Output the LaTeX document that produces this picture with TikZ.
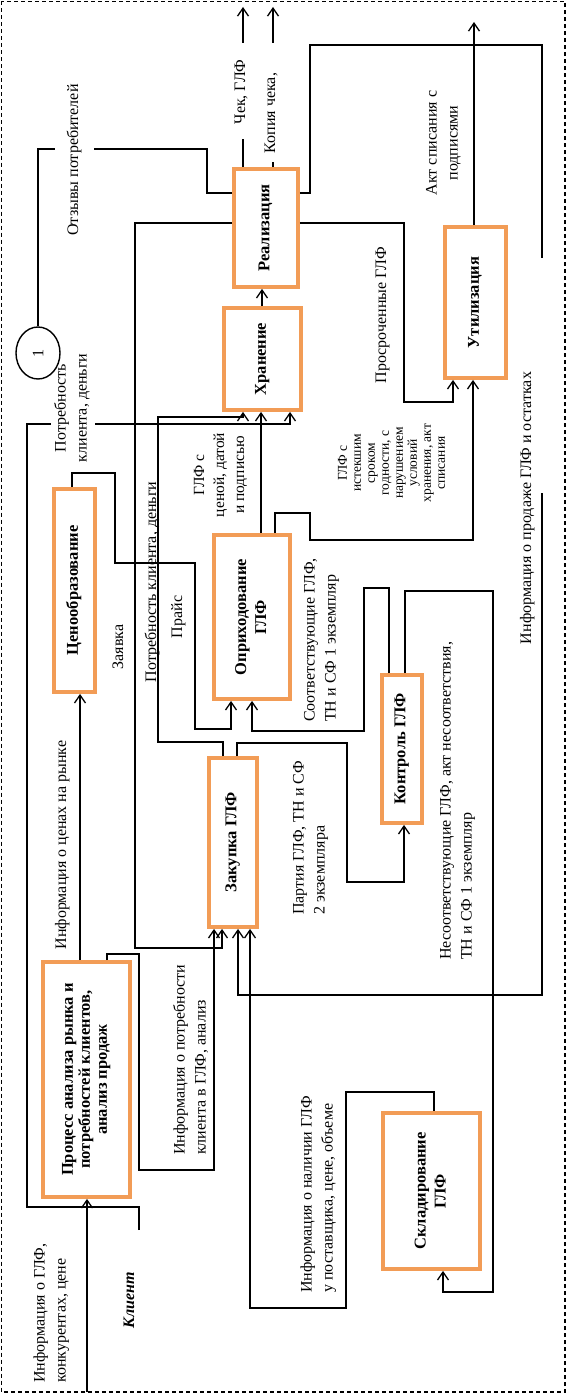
\documentclass[tikz,border=0pt]{standalone}
\usepackage{fontspec}
\setmainfont{Liberation Serif}
\usepackage{graphicx}
\usetikzlibrary{arrows.meta,shapes.geometric}
\definecolor{boxorange}{RGB}{242,156,86}
\newcommand{\rtc}[1]{\rotatebox{90}{\begin{tabular}{@{}c@{}}#1\end{tabular}}}
\newcommand{\rtl}[1]{\rotatebox{90}{\begin{tabular}{@{}l@{}}#1\end{tabular}}}
\tikzset{
  pbox/.style={draw=boxorange, line width=3.8pt, fill=white, inner sep=0pt, font=\fontsize{16.5}{17}\selectfont\bfseries},
  lbl/.style={inner sep=0pt, font=\fontsize{16}{21}\selectfont},
  conn/.style={line width=1.3pt},
  arr/.style={conn, -{Straight Barb[length=8pt,width=11pt]}},
}
\begin{document}
\begin{tikzpicture}[x=1pt,y=-1pt]
\useasboundingbox (0,0) rectangle (568,1394);
\draw[line width=1.5pt, dash pattern=on 4pt off 3pt] (1.5,1.5) rectangle (565,1392);
% boxes
\node[pbox, minimum width=64pt, minimum height=118pt] (real) at (266,228) {\rtc{Реализация}};
\node[pbox, minimum width=77pt, minimum height=102pt] (hran) at (262.5,359) {\rtc{Хранение}};
\node[pbox, minimum width=61pt, minimum height=151pt] (util) at (475.5,302.5) {\rtc{Утилизация}};
\node[pbox, minimum width=41pt, minimum height=203pt] (cen) at (74.5,590.5) {\rtc{Ценообразование}};
\node[pbox, minimum width=76pt, minimum height=164pt, font=\fontsize{16.5}{20}\selectfont\bfseries] (opr) at (252,617) {\rtc{Оприходование\\ГЛФ}};
\node[pbox, minimum width=40pt, minimum height=148pt] (kontr) at (402,749) {\rtc{Контроль ГЛФ}};
\node[pbox, minimum width=48pt, minimum height=169pt] (zak) at (233,842.5) {\rtc{Закупка ГЛФ}};
\node[pbox, minimum width=87pt, minimum height=235pt] (proc) at (86.5,1079.5) {\rtc{Процесс анализа рынка и\\потребностей клиентов,\\анализ продаж}};
\node[pbox, minimum width=97pt, minimum height=156pt, font=\fontsize{16.5}{20}\selectfont\bfseries] (sklad) at (431.5,1191) {\rtc{Складирование\\ГЛФ}};
\node[draw, ellipse, line width=1.4pt, minimum width=44pt, minimum height=52pt, inner sep=0pt, font=\fontsize{16}{20}\selectfont] (c1) at (38,353) {\rotatebox{90}{1}};
% free ends
\coordinate (outChek) at (243,7);
\coordinate (outKopia) at (273,7);
\coordinate (outAkt) at (474,22);
\coordinate (inInfo) at (87,1392);
\coordinate (klient) at (139,1230);
% connectors
\draw[conn] (real.west |- 0,193) -- (207,193) -- (207,149) -- (38,149) -- (c1.north);
\draw[conn] (real.north -| 243,0) -- (243,139);
\draw[arr] (243,43) -- (outChek);
\draw[conn] (real.north -| 273,0) -- (273,162);
\draw[arr] (273,43) -- (outKopia);
\draw[conn] (real.east |- 0,193) -- (310,193) -- (310,45) -- (542,45) -- (542,258);
\draw[arr] (542,493) -- (542,995) -- (238,995) -- (zak.south -| 238,0);
\draw[arr] (real.east |- 0,223) -- (404,223) -- (404,402) -- (453,402) -- (util.south -| 453,0);
\draw[arr] (real.west |- 0,223) -- (135,223) -- (135,948) -- (222,948) -- (zak.south -| 222,0);
\draw[arr] (hran.north -| 262,0) -- (real.south -| 262,0);
\draw[arr] (util.north -| 474,0) -- (outAkt);
\draw[arr] (klient) -- (139,1207) -- (27,1207) -- (27,424) -- (51,424) (95,424) -- (290,424) -- (hran.south -| 290,0);
\draw[arr] (zak.north -| 223,0) -- (223,742) -- (158,742) -- (158,417) -- (243,417) -- (hran.south -| 243,0);
\draw[arr] (opr.north -| 261,0) -- (hran.south -| 261,0);
\draw[arr] (opr.north -| 275,0) -- (275,513) -- (310,513) -- (310,540) -- (473,540) -- (util.south -| 473,0);
\draw[arr] (cen.north -| 72,0) -- (72,473) -- (115,473) -- (115,563) -- (195,563) -- (195,729) -- (231,729) -- (opr.south -| 231,0);
\draw[arr] (kontr.north -| 389,0) -- (389,588) -- (364,588) -- (364,731) -- (252,731) -- (opr.south -| 252,0);
\draw[arr] (kontr.north -| 405,0) -- (405,591) -- (493,591) -- (493,1292) -- (443,1292) -- (sklad.south -| 443,0);
\draw[arr] (zak.north -| 237,0) -- (237,743) -- (347,743) -- (347,882) -- (404,882) -- (kontr.south -| 404,0);
\draw[arr] (proc.north -| 80,0) -- (cen.south -| 80,0);
\draw[arr] (inInfo) -- (proc.south -| 87,0);
\draw[arr] (proc.north -| 107,0) -- (107,954) -- (139,954) -- (139,1170) -- (214,1170) -- (zak.south -| 214,0);
\draw[arr] (sklad.north -| 434,0) -- (434,1092) -- (346,1092) -- (346,1308) -- (250,1308) -- (zak.south -| 250,0);
% labels
\node[lbl, fill=white, inner xsep=9pt] (lOtz) at (74,160) {\rtc{Отзывы потребителей}};
\node[lbl] (lChek) at (241,92) {\rtc{Чек, ГЛФ}};
\node[lbl] (lKop) at (271,113) {\rtc{Копия чека,}};
\node[lbl] (lAkt) at (443,143) {\rtc{Акт списания с\\подписями}};
\node[lbl] (lPros) at (382,315) {\rtc{Просроченные ГЛФ}};
\node[lbl] (lPotr1) at (72,408) {\rtc{Потребность\\клиента, деньги}};
\node[lbl, font=\fontsize{15.5}{20}\selectfont] (lGlfC) at (220,475) {\rtc{ГЛФ с\\ценой, датой\\и подписью}};
\node[lbl, font=\fontsize{13.5}{14}\selectfont] (lIst) at (393,463) {\rtc{ГЛФ с\\истекшим\\сроком\\годности, с\\нарушением\\условий\\хранения, акт\\списания}};
\node[lbl] (lZay) at (119,647) {\rtc{Заявка}};
\node[lbl] (lPotr2) at (152,582) {\rtc{Потребность клиента, деньги}};
\node[lbl] (lPrice) at (178,617) {\rtc{Прайс}};
\node[lbl, anchor=south] (lSoot) at (321,722) {\rtl{Соответствующие ГЛФ,\\ТН и СФ 1 экземпляр}};
\node[lbl] (lProd) at (527,508) {\rtc{Информация о продаже ГЛФ и остатках}};
\node[lbl] (lCen) at (62,845) {\rtc{Информация о ценах на рынке}};
\node[lbl, anchor=south] (lPart) at (310,915) {\rtl{Партия ГЛФ, ТН и СФ\\2 экземпляра}};
\node[lbl, anchor=south] (lNes) at (457,960) {\rtl{Несоответствующие ГЛФ, акт несоответствия,\\ТН и СФ 1 экземпляр}};
\node[lbl, anchor=south] (lInfP) at (191,1155) {\rtl{Информация о потребности\\клиента в ГЛФ, анализ}};
\node[lbl, anchor=south] (lNal) at (318,1293) {\rtl{Информация о наличии ГЛФ\\у поставщика, цене, объеме}};
\node[lbl, anchor=south] (lGlf) at (51,1383) {\rtl{Информация о ГЛФ,\\конкурентах, цене}};
\node[lbl, font=\fontsize{16}{21}\selectfont\bfseries\itshape] (lKl) at (130,1300) {\rtc{Клиент}};
\end{tikzpicture}
\end{document}
